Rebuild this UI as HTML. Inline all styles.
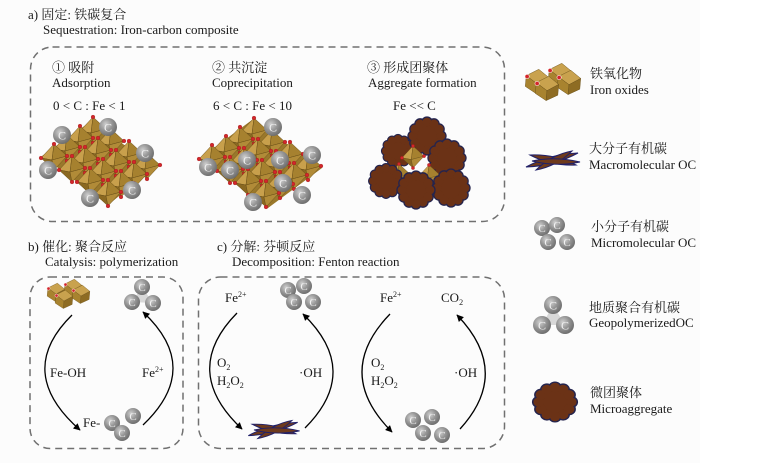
<!DOCTYPE html>
<html><head><meta charset="utf-8"><style>
html,body{margin:0;padding:0;background:#fff;}
svg{display:block;}
.t{font-family:"Liberation Serif","Noto Serif CJK SC",serif;font-size:13px;fill:#1a1a1a;}
.c{font-family:"Liberation Serif",serif;font-size:12px;fill:#f2f2f2;text-anchor:middle;}
.cs{font-family:"Liberation Serif",serif;font-size:11px;fill:#f2f2f2;text-anchor:middle;}
</style></head><body>
<svg width="768" height="463" viewBox="0 0 768 463" xmlns="http://www.w3.org/2000/svg">
<defs>
<radialGradient id="sg" cx="38%" cy="35%" r="70%">
<stop offset="0" stop-color="#d0d0d0"/><stop offset="0.5" stop-color="#959595"/><stop offset="1" stop-color="#6a6a6a"/>
</radialGradient>
<g id="oct" stroke="#6a5018" stroke-width="0.5">
<polygon points="0,-13 -13,1 -2,3" fill="#c8a04c"/>
<polygon points="0,-13 -2,3 13,-1" fill="#a6812f"/>
<polygon points="-13,1 -2,3 0,13" fill="#8a6821"/>
<polygon points="-2,3 13,-1 0,13" fill="#b18b38"/>
<g fill="#d3262b" stroke="#8a1010" stroke-width="0.3">
<circle cx="0" cy="-13" r="1.9"/><circle cx="-13" cy="1" r="1.9"/><circle cx="13" cy="-1" r="1.9"/><circle cx="0" cy="13" r="1.9"/>
</g>
</g>
<g id="oxi" stroke="#6a5018" stroke-width="0.5">
<polygon points="-12,-6 2,-13 13,-4 0,3" fill="#c9a24e"/>
<polygon points="-12,-6 0,3 -1,14 -13,6" fill="#a8832f"/>
<polygon points="0,3 13,-4 12,8 -1,14" fill="#8e6c23"/>
<circle cx="-11" cy="-5" r="2.4" fill="#d3262b" stroke="#fff" stroke-width="0.6"/>
</g>
<g id="lump">
<g fill="#6b3216" stroke="#24244e" stroke-width="1.2">
<circle cx="0" cy="0" r="13"/>
<circle cx="12" cy="0" r="4.5"/><circle cx="10.39" cy="6" r="4.5"/><circle cx="6" cy="10.39" r="4.5"/><circle cx="0" cy="12" r="4.5"/><circle cx="-6" cy="10.39" r="4.5"/><circle cx="-10.39" cy="6" r="4.5"/><circle cx="-12" cy="0" r="4.5"/><circle cx="-10.39" cy="-6" r="4.5"/><circle cx="-6" cy="-10.39" r="4.5"/><circle cx="0" cy="-12" r="4.5"/><circle cx="6" cy="-10.39" r="4.5"/><circle cx="10.39" cy="-6" r="4.5"/>
</g>
<g fill="#6b3216">
<circle cx="0" cy="0" r="12.5"/>
<circle cx="12" cy="0" r="3.9"/><circle cx="10.39" cy="6" r="3.9"/><circle cx="6" cy="10.39" r="3.9"/><circle cx="0" cy="12" r="3.9"/><circle cx="-6" cy="10.39" r="3.9"/><circle cx="-10.39" cy="6" r="3.9"/><circle cx="-12" cy="0" r="3.9"/><circle cx="-10.39" cy="-6" r="3.9"/><circle cx="-6" cy="-10.39" r="3.9"/><circle cx="0" cy="-12" r="3.9"/><circle cx="6" cy="-10.39" r="3.9"/><circle cx="10.39" cy="-6" r="3.9"/>
</g>
</g>
<g id="macro" fill="#6e3a1c" stroke="#20206a" stroke-width="1">
<path d="M-26,7 Q2,6 26,-7 Q-2,-6 -26,7Z"/>
<path d="M-22,-5 Q-1,6 24,5 Q3,-6 -22,-5Z"/>
<path d="M-16,10 Q5,6 20,-9 Q-1,-5 -16,10Z"/>
<path d="M-20,1 Q4,7 28,2 Q4,-4 -20,1Z"/>
</g>
<marker id="ah" viewBox="0 0 10 10" refX="9" refY="5" markerWidth="8" markerHeight="7" markerUnits="userSpaceOnUse" orient="auto">
<path d="M0,0 L10,5 L0,10 z" fill="#000"/>
</marker>
</defs>

<rect x="0" y="0" width="700" height="463" fill="#fcfcfc"/>

<!-- Panel a -->
<text class="t" x="28" y="19">a) 固定: 铁碳复合</text>
<text class="t" x="43" y="34">Sequestration: Iron-carbon composite</text>
<rect x="30.5" y="47" width="474" height="174.5" rx="22" fill="none" stroke="#707070" stroke-width="1.5" stroke-dasharray="7 5"/>

<text class="t" x="52" y="72">① 吸附</text>
<text class="t" x="52" y="87">Adsorption</text>
<text class="t" x="53" y="110">0 &lt; C : Fe &lt; 1</text>

<text class="t" x="212" y="72">② 共沉淀</text>
<text class="t" x="212" y="87">Coprecipitation</text>
<text class="t" x="213" y="110">6 &lt; C : Fe &lt; 10</text>

<text class="t" x="367" y="72">③ 形成团聚体</text>
<text class="t" x="368" y="87">Aggregate formation</text>
<text class="t" x="393" y="110">Fe &lt;&lt; C</text>

<!-- cluster 1 -->
<polygon points="42,156 90,122 156,166 108,205" fill="#9a782b"/>
<use href="#oct" x="93" y="130"/>
<use href="#oct" x="80" y="139"/><use href="#oct" x="111" y="142"/>
<use href="#oct" x="67" y="148"/><use href="#oct" x="98" y="151"/><use href="#oct" x="129" y="154"/>
<use href="#oct" x="54" y="157"/><use href="#oct" x="85" y="160"/><use href="#oct" x="116" y="163"/><use href="#oct" x="147" y="166"/>
<use href="#oct" x="72" y="169"/><use href="#oct" x="103" y="172"/><use href="#oct" x="134" y="175"/>
<use href="#oct" x="90" y="181"/><use href="#oct" x="121" y="184"/>
<use href="#oct" x="108" y="193"/>
<circle cx="62" cy="135" r="9" fill="url(#sg)"/><text class="c" x="62" y="139.5">C</text>
<circle cx="108" cy="127" r="9" fill="url(#sg)"/><text class="c" x="108" y="131.5">C</text>
<circle cx="145" cy="153" r="9" fill="url(#sg)"/><text class="c" x="145" y="157.5">C</text>
<circle cx="48" cy="170" r="9" fill="url(#sg)"/><text class="c" x="48" y="174.5">C</text>
<circle cx="90" cy="198" r="9" fill="url(#sg)"/><text class="c" x="90" y="202.5">C</text>
<circle cx="132" cy="190" r="9" fill="url(#sg)"/><text class="c" x="132" y="194.5">C</text>

<!-- cluster 2 -->
<polygon points="200,158 252,120 322,168 268,208" fill="#9a782b"/>
<use href="#oct" x="254" y="131"/>
<use href="#oct" x="240" y="140"/><use href="#oct" x="272" y="143"/>
<use href="#oct" x="226" y="149"/><use href="#oct" x="258" y="152"/><use href="#oct" x="290" y="155"/>
<use href="#oct" x="212" y="158"/><use href="#oct" x="244" y="161"/><use href="#oct" x="276" y="164"/><use href="#oct" x="308" y="167"/>
<use href="#oct" x="230" y="170"/><use href="#oct" x="262" y="173"/><use href="#oct" x="294" y="176"/>
<use href="#oct" x="248" y="182"/><use href="#oct" x="280" y="185"/>
<use href="#oct" x="266" y="194"/>
<circle cx="208" cy="167" r="9" fill="url(#sg)"/><text class="c" x="208" y="171.5">C</text>
<circle cx="230" cy="170" r="9" fill="url(#sg)"/><text class="c" x="230" y="174.5">C</text>
<circle cx="247" cy="160" r="9" fill="url(#sg)"/><text class="c" x="247" y="164.5">C</text>
<circle cx="273" cy="127" r="9" fill="url(#sg)"/><text class="c" x="273" y="131.5">C</text>
<circle cx="280" cy="160" r="9" fill="url(#sg)"/><text class="c" x="280" y="164.5">C</text>
<circle cx="312" cy="155" r="9" fill="url(#sg)"/><text class="c" x="312" y="159.5">C</text>
<circle cx="283" cy="183" r="9" fill="url(#sg)"/><text class="c" x="283" y="187.5">C</text>
<circle cx="302" cy="195" r="9" fill="url(#sg)"/><text class="c" x="302" y="199.5">C</text>
<circle cx="253" cy="202" r="9" fill="url(#sg)"/><text class="c" x="253" y="206.5">C</text>

<!-- aggregate -->
<use href="#lump" transform="translate(398,151) scale(1.0)"/>
<use href="#lump" transform="translate(427,136) scale(1.15)"/>
<use href="#lump" transform="translate(447,158) scale(1.15)"/>
<use href="#oct" transform="translate(413,157) scale(0.85)"/>
<use href="#oct" transform="translate(399,175) scale(0.85)"/>
<use href="#oct" transform="translate(429,176) scale(0.85)"/>
<use href="#lump" transform="translate(386,181) scale(1.05)"/>
<use href="#lump" transform="translate(451,188) scale(1.15)"/>
<use href="#lump" transform="translate(416,190) scale(1.15)"/>

<!-- Panel b -->
<text class="t" x="28" y="251">b) 催化: 聚合反应</text>
<text class="t" x="45" y="266">Catalysis: polymerization</text>
<rect x="30" y="277" width="153" height="171.5" rx="20" fill="none" stroke="#707070" stroke-width="1.5" stroke-dasharray="7 5"/>

<use href="#oxi" transform="translate(56,292) scale(0.68)"/>
<use href="#oxi" transform="translate(73,288) scale(0.68)"/>
<use href="#oxi" transform="translate(81,294) scale(0.68)"/>
<use href="#oxi" transform="translate(64,299) scale(0.68)"/>

<polygon points="142,287 132,302 153,303" fill="#d8d8d8"/>
<circle cx="142" cy="287" r="8" fill="url(#sg)"/><text class="cs" x="142" y="291">C</text>
<circle cx="132" cy="302" r="8" fill="url(#sg)"/><text class="cs" x="132" y="306">C</text>
<circle cx="153" cy="303" r="8" fill="url(#sg)"/><text class="cs" x="153" y="307">C</text>

<path d="M72,315 Q14,372 80,430" fill="none" stroke="#000" stroke-width="1.3" marker-end="url(#ah)"/>
<path d="M143,425 Q203,368 143,312" fill="none" stroke="#000" stroke-width="1.3" marker-end="url(#ah)"/>

<text class="t" x="50" y="377">Fe-OH</text>
<text class="t" x="142" y="377">Fe<tspan font-size="8" dy="-5">2+</tspan></text>
<text class="t" x="83" y="427">Fe-</text>

<circle cx="112" cy="423" r="8" fill="url(#sg)"/><text class="cs" x="112" y="427">C</text>
<circle cx="133" cy="416" r="8" fill="url(#sg)"/><text class="cs" x="133" y="420">C</text>
<circle cx="122" cy="433" r="8" fill="url(#sg)"/><text class="cs" x="122" y="437">C</text>

<!-- Panel c -->
<text class="t" x="217" y="251">c) 分解: 芬顿反应</text>
<text class="t" x="232" y="266">Decomposition: Fenton reaction</text>
<rect x="198.5" y="277" width="306" height="171.5" rx="22" fill="none" stroke="#707070" stroke-width="1.5" stroke-dasharray="7 5"/>

<text class="t" x="225" y="302">Fe<tspan font-size="8" dy="-5">2+</tspan></text>
<circle cx="288" cy="290" r="8" fill="url(#sg)"/><text class="cs" x="288" y="294">C</text>
<circle cx="304" cy="286" r="8" fill="url(#sg)"/><text class="cs" x="304" y="290">C</text>
<circle cx="294" cy="302" r="8" fill="url(#sg)"/><text class="cs" x="294" y="306">C</text>
<circle cx="313" cy="302" r="8" fill="url(#sg)"/><text class="cs" x="313" y="306">C</text>

<path d="M237,313 Q180,371 242,429" fill="none" stroke="#000" stroke-width="1.3" marker-end="url(#ah)"/>
<path d="M305,428 Q362,371 303,314" fill="none" stroke="#000" stroke-width="1.3" marker-end="url(#ah)"/>
<text class="t" x="217" y="367">O<tspan font-size="8" dy="3">2</tspan></text>
<text class="t" x="217" y="385">H<tspan font-size="8" dy="3">2</tspan><tspan dy="-3">O</tspan><tspan font-size="8" dy="3">2</tspan></text>
<text class="t" x="299" y="377">·OH</text>
<use href="#macro" transform="translate(273,429) scale(0.95)"/>

<text class="t" x="380" y="302">Fe<tspan font-size="8" dy="-5">2+</tspan></text>
<text class="t" x="441" y="302">CO<tspan font-size="8" dy="3">2</tspan></text>
<path d="M390,314 Q333,373 392,432" fill="none" stroke="#000" stroke-width="1.3" marker-end="url(#ah)"/>
<path d="M460,429 Q512,372 457,315" fill="none" stroke="#000" stroke-width="1.3" marker-end="url(#ah)"/>
<text class="t" x="371" y="367">O<tspan font-size="8" dy="3">2</tspan></text>
<text class="t" x="371" y="385">H<tspan font-size="8" dy="3">2</tspan><tspan dy="-3">O</tspan><tspan font-size="8" dy="3">2</tspan></text>
<text class="t" x="454" y="377">·OH</text>
<circle cx="413" cy="420" r="8" fill="url(#sg)"/><text class="cs" x="413" y="424">C</text>
<circle cx="432" cy="417" r="8" fill="url(#sg)"/><text class="cs" x="432" y="421">C</text>
<circle cx="423" cy="433" r="8" fill="url(#sg)"/><text class="cs" x="423" y="437">C</text>
<circle cx="442" cy="435" r="8" fill="url(#sg)"/><text class="cs" x="442" y="439">C</text>

<!-- Legend -->
<use href="#oxi" transform="translate(537,81) scale(0.9)"/>
<use href="#oxi" transform="translate(560,75) scale(0.9)"/>
<use href="#oxi" transform="translate(569,82) scale(0.9)"/>
<use href="#oxi" transform="translate(547,88) scale(0.9)"/>
<text class="t" x="590" y="78">铁氧化物</text>
<text class="t" x="590" y="94">Iron oxides</text>

<use href="#macro" transform="translate(552,160)"/>
<text class="t" x="589" y="153">大分子有机碳</text>
<text class="t" x="589" y="169">Macromolecular OC</text>

<circle cx="542" cy="228" r="8" fill="url(#sg)"/><text class="cs" x="542" y="232">C</text>
<circle cx="557" cy="225" r="8" fill="url(#sg)"/><text class="cs" x="557" y="229">C</text>
<circle cx="548" cy="242" r="8" fill="url(#sg)"/><text class="cs" x="548" y="246">C</text>
<circle cx="567" cy="242" r="8" fill="url(#sg)"/><text class="cs" x="567" y="246">C</text>
<text class="t" x="591" y="231">小分子有机碳</text>
<text class="t" x="591" y="247">Micromolecular OC</text>

<polygon points="553,305 542,325 565,325" fill="#d8d8d8"/>
<circle cx="553" cy="305" r="9" fill="url(#sg)"/><text class="c" x="553" y="309.5">C</text>
<circle cx="542" cy="325" r="9" fill="url(#sg)"/><text class="c" x="542" y="329.5">C</text>
<circle cx="565" cy="325" r="9" fill="url(#sg)"/><text class="c" x="565" y="329.5">C</text>
<text class="t" x="589" y="312">地质聚合有机碳</text>
<text class="t" x="589" y="327">GeopolymerizedOC</text>

<use href="#lump" transform="translate(555,402) scale(1.35,1.2)"/>
<text class="t" x="590" y="397">微团聚体</text>
<text class="t" x="590" y="413">Microaggregate</text>
</svg>
</body></html>
